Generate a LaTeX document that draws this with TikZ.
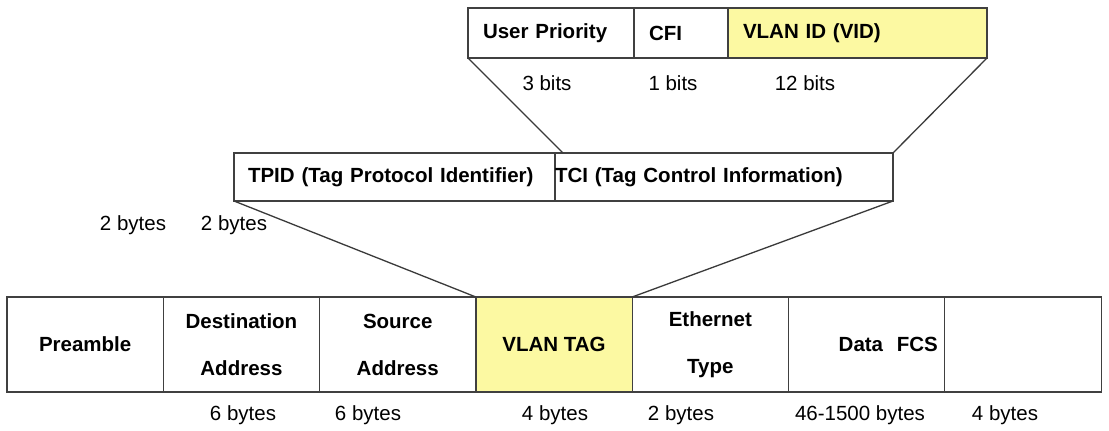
\documentclass[tikz,border=0pt]{standalone}
\usepackage{fontspec}
\setmainfont{Liberation Sans}
\usetikzlibrary{calc}
\definecolor{framegray}{HTML}{404040}
\definecolor{tagyellow}{HTML}{FCF9A2}

\begin{document}
\begin{tikzpicture}[x=1pt,y=-1pt,
  field/.style={draw=framegray,line width=1.2pt,minimum width=156.3pt,minimum height=95pt,
    inner sep=0pt,outer sep=0pt,align=center,font=\bfseries\fontsize{20.5}{47}\selectfont},
  midfield/.style={draw=framegray,line width=1.2pt,minimum height=48pt,
    inner sep=0pt,outer sep=0pt,font=\bfseries\fontsize{20.5}{24}\selectfont},
  subfield/.style={draw=framegray,line width=1.2pt,minimum height=50pt,
    inner sep=0pt,outer sep=0pt,align=left,font=\bfseries\fontsize{20.5}{24}\selectfont},
  size/.style={inner sep=0pt,font=\fontsize{20.5}{24}\selectfont},
  link/.style={draw=framegray!90!black,line width=1.3pt}]
  \fill[white] (0,0) rectangle (1109,431);
  \useasboundingbox (0,0) rectangle (1109,431);

  \node[field] (pre) at (85.15,344.5) {Preamble};
  \node[field,anchor=west] (dst) at (pre.east) {Destination\\Address};
  \node[field,anchor=west] (src) at (dst.east) {Source\\Address};
  \node[field,anchor=west,fill=tagyellow] (tag) at (src.east) {VLAN TAG};
  \node[field,anchor=west] (eth) at (tag.east) {Ethernet\\Type};
  \node[field,anchor=west,align=right,text width=142.3pt,inner xsep=7pt] (data) at (eth.east) {Data\ \ FCS};
  \node[field,anchor=west] (fcs) at (data.east) {};

  \node[midfield,minimum width=321pt,text width=293pt,inner xsep=14pt,align=left] (tpid) at (394.5,177) {TPID (Tag Protocol Identifier)};
  \node[midfield,anchor=west,text width=338pt,align=left] (tci) at (tpid.east) {TCI (Tag Control Information)};

  \node[subfield,text width=136pt,inner xsep=15pt] (prio) at (551,33) {User Priority};
  \node[subfield,anchor=west,text width=64pt,inner xsep=15pt] (cfi) at (prio.east) {CFI};
  \node[subfield,anchor=west,text width=229pt,inner xsep=15pt,fill=tagyellow] (vid) at (cfi.east) {VLAN ID (VID)};

  \foreach \x/\y/\n/\lab in {547/83/bprio/3 bits,673/83/bcfi/1 bits,805/83/bvid/12 bits,
      133/225/btpid/2 bytes,234/225/btci/2 bytes,
      243/415/bdst/6 bytes,368/415/bsrc/6 bytes,555/415/btag/4 bytes,
      681/415/beth/2 bytes,860/415/bdata/46-1500 bytes,1005/415/bfcs/4 bytes}{
    \node[size] (\n) at (\x,\y) {\lab};
  }

  \coordinate (tcitop) at ($(tci.north west)+(8,0)$);
  \draw[link] (prio.south west) -- (tcitop);
  \draw[link] (vid.south east) -- (tci.north east);
  \draw[link] (tpid.south west) -- (tag.north west);
  \draw[link] (tci.south east) -- (tag.north east);
\end{tikzpicture}
\end{document}
